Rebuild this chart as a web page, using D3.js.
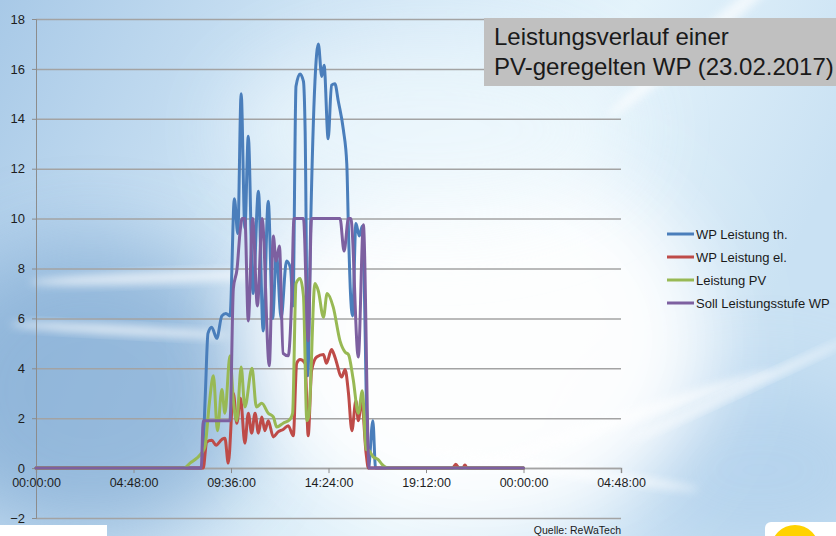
<!DOCTYPE html>
<html>
<head>
<meta charset="utf-8">
<script src="https://cdn.jsdelivr.net/npm/d3@7"></script>
<style>
  body { margin: 0; overflow: hidden; background: #fff; }
  svg { display: block; font-family: Arial, "Liberation Sans", sans-serif; }
</style>
</head>
<body>
<div id="chart"></div>
<script>
/* DATA */
const seriesNames = ["WP Leistung th.", "WP Leistung el.", "Leistung PV", "Soll Leistungsstufe WP"];
const xTickLabels = ["00:00:00", "04:48:00", "09:36:00", "14:24:00", "19:12:00", "00:00:00", "04:48:00"];
const yTicks = [-2, 0, 2, 4, 6, 8, 10, 12, 14, 16, 18];

// WP Leistung th.
const thTime = ["0:00","8:10","8:20","8:28","8:39","8:54","9:09","9:21","9:33","9:46","9:56","10:06","10:17","10:27","10:41","10:57","11:11","11:26","11:39","11:50","12:04","12:20","12:32","12:39","12:48","13:00","13:10","13:15","13:23","13:31","13:44","13:54","14:04","14:11","14:23","14:33","14:43","14:53","15:08","15:18","15:23","15:29","15:35","15:45","15:55","16:04","16:22","16:35","16:43","24:00"];
const thValue = [0,0,2.9,5.4,5.65,5.2,6.1,6.2,6.1,10.8,9.4,15.0,9.6,13.3,7.0,11.1,5.5,10.7,6.0,8.6,6.0,8.3,8.0,6.5,15.3,15.8,15.5,13.5,3.7,9.5,15.5,17.0,15.7,16.15,13.2,15.35,15.4,14.7,13.55,12.2,9.5,7.0,6.1,9.8,9.3,9.7,0,1.9,0,0];

// WP Leistung el.
const elTime = ["0:00","8:14","8:24","8:39","8:52","9:09","9:18","9:28","9:43","9:53","10:04","10:17","10:27","10:37","10:47","10:57","11:07","11:16","11:26","11:41","11:55","12:10","12:25","12:40","12:50","13:00","13:15","13:24","13:34","13:49","14:09","14:18","14:33","14:43","15:03","15:13","15:23","15:33","15:45","15:52","16:02","16:15","16:22","20:30","20:40","20:50","21:00","21:07","21:14","24:00"];
const elValue = [0,0,1.05,1.12,0.92,1.15,1.2,0.2,3.0,1.8,2.8,1.0,2.2,1.4,2.2,1.4,2.05,1.5,1.9,1.25,1.45,1.55,1.7,1.3,4.2,4.35,4.2,1.3,3.9,4.45,4.55,4.2,4.75,4.45,3.65,3.95,3.0,1.5,2.7,1.9,2.7,0.6,0,0,0.15,0,0,0.12,0,0];

// Leistung PV
const pvTime = ["0:00","7:17","7:35","7:55","8:09","8:19","8:32","8:44","8:56","9:09","9:18","9:33","9:43","9:53","10:06","10:17","10:38","10:51","11:07","11:26","11:41","11:51","12:10","12:30","12:38","12:48","13:00","13:10","13:20","13:26","13:44","13:54","14:09","14:20","14:38","14:58","15:13","15:23","15:37","15:52","16:04","16:15","16:24","16:36","16:50","17:02","17:21","24:00"];
const pvValue = [0,0,0.2,0.4,0.6,0.85,2.6,3.7,1.5,3.15,2.2,4.5,2.7,1.9,4.05,2.45,4.0,2.45,2.6,2.2,2.05,1.65,1.8,1.95,2.2,7.4,7.6,6.9,1.9,2.1,7.4,7.1,6.05,7.0,6.45,5.1,4.65,4.55,3.55,2.2,3.1,0.75,0.7,0.45,0.35,0.15,0,0];

// Soll Leistungsstufe WP
const sollTime = ["0:00","8:08","8:14","9:33","9:43","9:54","10:03","10:09","10:17","10:27","10:40","10:54","11:08","11:29","11:41","11:49","11:59","12:10","12:25","12:35","12:42","13:10","13:24","13:34","14:58","15:10","15:23","15:30","15:52","16:07","16:24","24:00"];
const sollValue = [0,0,1.9,1.9,7.2,8.0,9.5,10,10,5.9,10,6.5,10,4.1,9.3,8.3,8.9,4.6,4.5,6.7,10,10,5.1,10,10,8.7,10,10,4.45,9.75,0,0];

/* LAYOUT */
const W = 836, H = 536;
const colors = ["#4a7ebb", "#be4b48", "#98b954", "#7d60a0"];

const toMin = s => { const [h, m] = s.split(":").map(Number); return h * 60 + m; };
const series = [
  { name: seriesNames[0], t: thTime, v: thValue },
  { name: seriesNames[1], t: elTime, v: elValue },
  { name: seriesNames[2], t: pvTime, v: pvValue },
  { name: seriesNames[3], t: sollTime, v: sollValue }
].map((s, i) => ({ name: s.name, color: colors[i], pts: s.t.map((d, j) => ({ x: toMin(d), y: s.v[j] })) }));

const svg = d3.select("#chart").append("svg")
  .attr("width", W).attr("height", H);

/* BACKGROUND */
const defs = svg.append("defs");
const bg = defs.append("linearGradient").attr("id", "bg").attr("x1", 0).attr("y1", 0).attr("x2", 1).attr("y2", 0.3);
bg.append("stop").attr("offset", "0%").attr("stop-color", "#a8c9e7");
bg.append("stop").attr("offset", "35%").attr("stop-color", "#cde3f4");
bg.append("stop").attr("offset", "70%").attr("stop-color", "#e4f3fb");
bg.append("stop").attr("offset", "100%").attr("stop-color", "#c9e1f3");
defs.append("filter").attr("id", "blur40").attr("x", "-50%").attr("y", "-50%").attr("width", "200%").attr("height", "200%")
  .append("feGaussianBlur").attr("stdDeviation", 40);
defs.append("filter").attr("id", "blur5").attr("x", "-50%").attr("y", "-50%").attr("width", "200%").attr("height", "200%")
  .append("feGaussianBlur").attr("stdDeviation", 4);

svg.append("rect").attr("width", W).attr("height", H).attr("fill", "url(#bg)");
svg.append("ellipse").attr("cx", 90).attr("cy", 390).attr("rx", 170).attr("ry", 150)
  .attr("fill", "#7ea8d2").attr("opacity", 0.7).attr("filter", "url(#blur40)");
svg.append("ellipse").attr("cx", 760).attr("cy", 470).attr("rx", 140).attr("ry", 90)
  .attr("fill", "#a9cbe9").attr("opacity", 0.6).attr("filter", "url(#blur40)");
svg.append("ellipse").attr("cx", 480).attr("cy", 340).attr("rx", 230).attr("ry", 190)
  .attr("fill", "#ffffff").attr("opacity", 0.95).attr("filter", "url(#blur40)");
svg.append("ellipse").attr("cx", 430).attr("cy", 130).attr("rx", 200).attr("ry", 90)
  .attr("fill", "#eef8fd").attr("opacity", 0.8).attr("filter", "url(#blur40)");

const streaks = [[150, 278, 120, 6, -2], [120, 330, 110, 5, 3], [620, 420, 160, 6, -18], [740, 390, 120, 4, -25], [700, 40, 120, 8, -40], [560, 470, 140, 5, 8]];
svg.selectAll("ellipse.streak").data(streaks).join("ellipse").attr("class", "streak")
  .attr("rx", d => d[2]).attr("ry", d => d[3])
  .attr("transform", d => `translate(${d[0]},${d[1]}) rotate(${d[4]})`)
  .attr("fill", "#ffffff").attr("opacity", 0.65).attr("filter", "url(#blur5)");

/* SCALES */
const x = d3.scaleLinear().domain([0, 1728]).range([36, 621]);
const y = d3.scaleLinear().domain([-2, 18]).range([518, 19]);

// grid lines
svg.append("g")
  .attr("transform", "translate(36,0)")
  .call(d3.axisLeft(y).tickValues(yTicks).tickSize(-585).tickFormat(""))
  .call(g => g.select(".domain").remove())
  .selectAll("line").attr("stroke", "#a3a3a3").attr("stroke-width", 1.5);

// y axis
const yAxis = svg.append("g")
  .attr("transform", "translate(36,0)")
  .call(d3.axisLeft(y).tickValues(yTicks).tickSize(4).tickPadding(7));
yAxis.select(".domain").attr("stroke", "#8c8c8c");
yAxis.selectAll("line").attr("stroke", "#8c8c8c");
yAxis.selectAll("text").attr("font-size", "13px").attr("fill", "#1e1e1e").attr("font-family", "Arial, 'Liberation Sans', sans-serif");

// x axis
const xAxis = svg.append("g")
  .attr("transform", `translate(0,${y(0)})`)
  .call(d3.axisBottom(x).tickValues(d3.range(0, 1729, 288)).tickFormat((d, i) => xTickLabels[i]).tickSize(5).tickPadding(5));
xAxis.select(".domain").attr("stroke", "#a3a3a3").attr("stroke-width", 1.5);
xAxis.selectAll("line").attr("stroke", "#8c8c8c");
xAxis.selectAll("text").attr("font-size", "12.5px").attr("fill", "#1e1e1e").attr("font-family", "Arial, 'Liberation Sans', sans-serif");

/* LINES */
const line = d3.line().x(d => x(d.x)).y(d => y(d.y)).curve(d3.curveMonotoneX);
svg.selectAll("path.series").data(series).join("path")
  .attr("class", "series")
  .attr("d", d => line(d.pts))
  .attr("fill", "none")
  .attr("stroke", d => d.color)
  .attr("stroke-width", 3)
  .attr("stroke-linejoin", "round")
  .attr("stroke-linecap", "round");

/* TITLE BOX */
svg.append("rect").attr("x", 484).attr("y", 18).attr("width", 360).attr("height", 68).attr("fill", "#c0c0c0");
svg.append("text").attr("x", 494).attr("y", 45).attr("font-size", "24px").attr("fill", "#1a1a1a").text("Leistungsverlauf einer");
svg.append("text").attr("x", 494).attr("y", 75).attr("font-size", "24px").attr("fill", "#1a1a1a").text("PV-geregelten WP (23.02.2017)");

/* LEGEND */
const legend = svg.append("g").selectAll("g").data(series).join("g")
  .attr("transform", (d, i) => `translate(667,${234 + i * 23})`);
legend.append("line").attr("x1", 0).attr("x2", 27).attr("stroke", d => d.color).attr("stroke-width", 3);
legend.append("text").attr("x", 29).attr("dy", "0.35em").attr("font-size", "13px").attr("fill", "#1a1a1a").text(d => d.name);

/* SOURCE + DECOR */
svg.append("text").attr("x", 621).attr("y", 534).attr("text-anchor", "end").attr("font-size", "10.5px")
  .attr("fill", "#1a1a1a").text("Quelle:  ReWaTech");
svg.append("rect").attr("x", 0).attr("y", 525).attr("width", 107).attr("height", 12).attr("fill", "#ffffff");
svg.append("rect").attr("x", 765).attr("y", 522).attr("width", 80).attr("height", 20).attr("rx", 6).attr("fill", "#ffffff");
svg.append("circle").attr("cx", 795).attr("cy", 549).attr("r", 24).attr("fill", "#ffd200");
</script>
</body>
</html>
